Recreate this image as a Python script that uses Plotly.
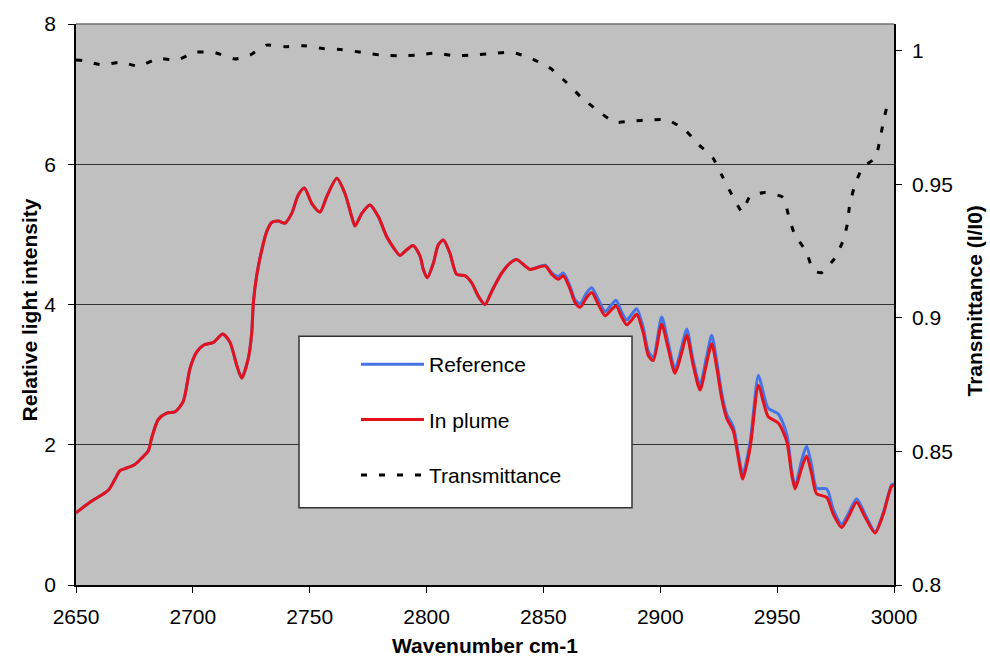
import plotly.graph_objects as go

# Spectra: wavenumber (cm-1) and relative light intensity
wavenumber = [
    2650.0, 2656.0, 2663.8, 2666.7, 2668.8, 2671.0, 2675.2, 2678.1, 2680.9, 2682.4,
    2685.2, 2688.8, 2692.4, 2695.9, 2698.8, 2701.6, 2704.5, 2708.8, 2712.8, 2715.9,
    2718.8, 2720.9, 2723.7, 2725.2, 2725.9, 2727.3, 2729.5, 2731.6, 2733.7, 2736.6,
    2739.4, 2742.3, 2745.1, 2747.7, 2750.9, 2754.4, 2757.3, 2761.6, 2765.1, 2768.0,
    2769.4, 2772.3, 2775.8, 2779.4, 2782.9, 2786.5, 2788.6, 2791.5, 2794.3, 2797.2,
    2798.6, 2800.3, 2802.9, 2805.0, 2807.2, 2810.0, 2812.9, 2816.5, 2819.3, 2822.1,
    2825.0, 2827.9, 2832.2, 2835.7, 2838.6, 2842.1, 2844.3, 2850.7, 2853.6, 2856.4,
    2858.5, 2861.4, 2863.5, 2865.7, 2868.5, 2870.7, 2873.5, 2876.4, 2879.2, 2881.1,
    2883.5, 2885.6, 2887.8, 2889.9, 2892.7, 2894.9, 2897.0, 2900.6, 2903.4, 2906.3,
    2909.2, 2911.3, 2914.1, 2917.0, 2919.6, 2922.0, 2924.2, 2926.3, 2928.4, 2931.3,
    2933.4, 2935.3, 2938.4, 2942.0, 2944.1, 2946.2, 2950.5, 2954.1, 2956.2, 2957.7,
    2960.5, 2962.6, 2964.8, 2966.9, 2971.2, 2974.0, 2977.6, 2980.5, 2984.0, 2987.6,
    2991.9, 2995.4, 2999.0, 3000.0,
]

reference = [
    1.03, 1.18, 1.35, 1.51, 1.63, 1.66, 1.72, 1.81, 1.91, 2.10,
    2.36, 2.45, 2.47, 2.62, 3.09, 3.32, 3.42, 3.46, 3.58, 3.46,
    3.13, 2.95, 3.23, 3.60, 4.03, 4.41, 4.78, 5.04, 5.17, 5.19,
    5.16, 5.30, 5.56, 5.66, 5.44, 5.32, 5.54, 5.80, 5.58, 5.25,
    5.12, 5.30, 5.42, 5.25, 4.97, 4.78, 4.70, 4.78, 4.84, 4.69,
    4.50, 4.38, 4.59, 4.85, 4.92, 4.73, 4.43, 4.41, 4.31, 4.12,
    4.00, 4.19, 4.45, 4.59, 4.64, 4.55, 4.50, 4.56, 4.45, 4.40,
    4.45, 4.26, 4.07, 4.01, 4.17, 4.24, 4.07, 3.90, 4.00, 4.06,
    3.89, 3.78, 3.86, 3.94, 3.67, 3.33, 3.25, 3.82, 3.45, 3.08,
    3.40, 3.65, 3.20, 2.85, 3.22, 3.56, 3.18, 2.73, 2.44, 2.25,
    1.87, 1.58, 2.03, 2.99, 2.74, 2.52, 2.44, 2.15, 1.64, 1.41,
    1.78, 1.98, 1.70, 1.38, 1.37, 1.08, 0.87, 1.02, 1.23, 1.01,
    0.76, 1.03, 1.43, 1.44,
]

in_plume = [
    1.03, 1.18, 1.35, 1.51, 1.63, 1.66, 1.72, 1.81, 1.91, 2.10,
    2.36, 2.45, 2.47, 2.62, 3.09, 3.32, 3.42, 3.46, 3.58, 3.46,
    3.13, 2.95, 3.23, 3.60, 4.03, 4.41, 4.78, 5.04, 5.17, 5.19,
    5.16, 5.30, 5.56, 5.66, 5.44, 5.32, 5.54, 5.80, 5.58, 5.25,
    5.12, 5.30, 5.42, 5.25, 4.97, 4.78, 4.70, 4.78, 4.84, 4.69,
    4.50, 4.38, 4.59, 4.85, 4.92, 4.73, 4.43, 4.41, 4.31, 4.12,
    4.00, 4.19, 4.45, 4.59, 4.64, 4.55, 4.50, 4.55, 4.43, 4.36,
    4.41, 4.22, 4.03, 3.96, 4.10, 4.17, 4.00, 3.84, 3.93, 3.98,
    3.82, 3.71, 3.78, 3.86, 3.60, 3.27, 3.20, 3.72, 3.37, 3.02,
    3.32, 3.56, 3.13, 2.78, 3.13, 3.44, 3.09, 2.66, 2.38, 2.19,
    1.81, 1.51, 1.95, 2.85, 2.61, 2.40, 2.31, 2.05, 1.58, 1.37,
    1.67, 1.84, 1.58, 1.30, 1.25, 1.01, 0.82, 0.97, 1.18, 0.97,
    0.74, 1.01, 1.41, 1.42,
]

# Transmittance I/I0
trans_wavenumber = [
    2650, 2653, 2661, 2669, 2677, 2685, 2693, 2701, 2709, 2718,
    2724.5, 2731.5, 2739.5, 2747.5, 2755.5, 2764, 2772, 2780, 2788, 2796,
    2804, 2812, 2820, 2828, 2836.5, 2844.5, 2853, 2860, 2866, 2873.5,
    2880.5, 2888, 2895.5, 2903, 2910.5, 2916.5, 2922.5, 2926.5, 2930.5, 2935,
    2938.5, 2945, 2952.5, 2955, 2957.5, 2962.5, 2965.5, 2969, 2974.5, 2978,
    2980, 2981, 2983, 2986.5, 2992, 2994, 2995.5, 2997.5,
]

transmittance = [
    0.9965, 0.9963, 0.9947, 0.9957, 0.9942, 0.9971, 0.9965, 0.9994, 0.9994, 0.9969,
    0.9984, 1.0021, 1.0015, 1.0019, 1.0008, 1.0004, 0.9994, 0.9984, 0.9981, 0.9984,
    0.9991, 0.9981, 0.9984, 0.9989, 0.9994, 0.9972, 0.9934, 0.9880, 0.9827, 0.9774,
    0.9732, 0.9737, 0.9741, 0.9741, 0.9704, 0.9648, 0.9599, 0.9531, 0.9463, 0.9397,
    0.9457, 0.9469, 0.9451, 0.9379, 0.9312, 0.9247, 0.9177, 0.9169, 0.9222, 0.9284,
    0.9349, 0.9420, 0.9490, 0.9562, 0.9599, 0.9667, 0.9737, 0.9809,
]

x_ticks = [2650, 2700, 2750, 2800, 2850, 2900, 2950, 3000]
left_ticks = [0, 2, 4, 6, 8]
right_ticks = [0.8, 0.85, 0.9, 0.95, 1.0]
right_tick_text = ["0.8", "0.85", "0.9", "0.95", "1"]

FONT = "Liberation Sans, Arial, sans-serif"
FS = 21

fig = go.Figure()

fig.add_trace(go.Scatter(
    x=wavenumber, y=reference, name="Reference", mode="lines",
    line=dict(color="#4673E6", width=3, shape="spline", smoothing=0.7),
    legendgroup="a",
))
fig.add_trace(go.Scatter(
    x=wavenumber, y=in_plume, name="In plume", mode="lines",
    line=dict(color="#E3121B", width=3, shape="spline", smoothing=0.7),
    legendgroup="b",
))
fig.add_trace(go.Scatter(
    x=trans_wavenumber, y=transmittance, name="Transmittance", mode="lines",
    line=dict(color="black", width=3, dash="6px,12px", shape="spline", smoothing=0.5),
    yaxis="y2", legendgroup="c",
))

# plot-area pixel geometry
L, R, T, B = 76, 894, 19, 585
W, H = R - L, B - T


def px_x(p):
    return (p - L) / W


def px_y(p):
    return (B - p) / H


fig.update_layout(
    width=990, height=662,
    margin=dict(l=L, r=990 - R, t=T, b=662 - B),
    paper_bgcolor="white",
    plot_bgcolor="#C0C0C0",
    font=dict(family=FONT, size=FS, color="black"),
    showlegend=True,
    legend=dict(
        x=px_x(356), y=px_y(342), xanchor="left", yanchor="top",
        bgcolor="rgba(0,0,0,0)", borderwidth=0,
        font=dict(family=FONT, size=FS, color="black"),
        itemwidth=63, tracegroupgap=25,
    ),
    xaxis=dict(
        range=[2650, 3000], tickvals=x_ticks, ticks="outside", ticklen=6,
        tickcolor="black", showline=True, linecolor="black", linewidth=1.5,
        showgrid=False, zeroline=False, tickfont=dict(size=FS),
        ticklabelstandoff=6,
    ),
    yaxis=dict(
        range=[0, 8], tickvals=left_ticks, ticks="outside", ticklen=6,
        tickcolor="black", showline=True, linecolor="black", linewidth=1.5,
        showgrid=True, gridcolor="#333333", gridwidth=1.3, zeroline=False,
        tickfont=dict(size=FS), ticklabelstandoff=8,
    ),
    yaxis2=dict(
        range=[0.8, 1.01], tickvals=right_ticks, ticktext=right_tick_text,
        overlaying="y", side="right", ticks="outside", ticklen=6,
        tickcolor="black", showline=True, linecolor="black", linewidth=1.5,
        showgrid=False, zeroline=False, tickfont=dict(size=FS),
        ticklabelstandoff=6,
    ),
    shapes=[
        # top border of the plot area
        dict(type="line", xref="paper", yref="paper", x0=0, x1=1, y0=1, y1=1,
             line=dict(color="#707070", width=1.5)),
        # legend frame
        dict(type="rect", xref="paper", yref="paper",
             x0=px_x(299), x1=px_x(632), y0=px_y(507), y1=px_y(334),
             fillcolor="white", line=dict(color="#333333", width=1.5),
             layer="above"),
    ],
    annotations=[
        dict(text="<b>Relative light intensity</b>", xref="paper", yref="paper",
             x=px_x(29), y=px_y(308), textangle=-90, showarrow=False,
             xanchor="center", yanchor="middle", font=dict(size=FS)),
        dict(text="<b>Transmittance (I/I0)</b>", xref="paper", yref="paper",
             x=px_x(975), y=px_y(298), textangle=-90, showarrow=False,
             xanchor="center", yanchor="middle", font=dict(size=FS)),
        dict(text="<b>Wavenumber cm-1</b>", xref="paper", yref="paper",
             x=px_x(485), y=px_y(646), showarrow=False,
             xanchor="center", yanchor="middle", font=dict(size=FS)),
    ],
)

fig.write_html("out.html")
